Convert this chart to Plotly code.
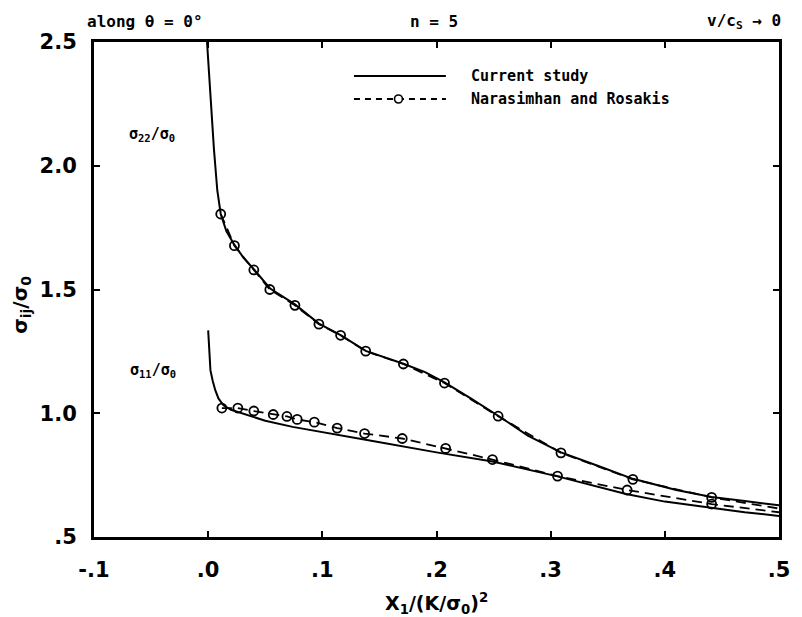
import plotly.graph_objects as go

# ---------------- data ----------------
x_tick_vals = [-0.1, 0.0, 0.1, 0.2, 0.3, 0.4, 0.5]
x_tick_text = ["-.1", ".0", ".1", ".2", ".3", ".4", ".5"]
y_tick_vals = [0.5, 1.0, 1.5, 2.0, 2.5]
y_tick_text = [".5", "1.0", "1.5", "2.0", "2.5"]

# Current study (solid)
s22_cur_x = [-0.001, 0.002, 0.005, 0.008, 0.011, 0.016, 0.023, 0.031, 0.040, 0.054,
             0.076, 0.097, 0.116, 0.138, 0.171, 0.190, 0.207, 0.230, 0.254, 0.280,
             0.309, 0.340, 0.372, 0.410, 0.441, 0.470, 0.500]
s22_cur_y = [2.50, 2.27, 2.07, 1.90, 1.805, 1.735, 1.680, 1.628, 1.582, 1.505,
             1.440, 1.362, 1.316, 1.252, 1.200, 1.166, 1.125, 1.060, 0.990, 0.910,
             0.842, 0.790, 0.735, 0.690, 0.662, 0.645, 0.628]

s11_cur_x = [0.000, 0.001, 0.002, 0.004, 0.0063, 0.009, 0.0134, 0.020, 0.0307, 0.050,
             0.074, 0.117, 0.149, 0.200, 0.249, 0.306, 0.366, 0.400, 0.441, 0.470, 0.500]
s11_cur_y = [1.335, 1.250, 1.173, 1.130, 1.092, 1.060, 1.032, 1.014, 0.999, 0.970,
             0.945, 0.911, 0.884, 0.842, 0.805, 0.745, 0.674, 0.643, 0.617, 0.600, 0.585]

# Narasimhan and Rosakis (dashed with open circles)
s22_nr_x = [0.011, 0.023, 0.040, 0.054, 0.076, 0.097, 0.116, 0.138, 0.171, 0.207,
            0.254, 0.309, 0.372, 0.441]
s22_nr_y = [1.805, 1.677, 1.579, 1.500, 1.436, 1.360, 1.315, 1.251, 1.199, 1.122,
            0.988, 0.840, 0.733, 0.660]
s22_nr_end_x = [0.500]
s22_nr_end_y = [0.615]

s11_nr_x = [0.012, 0.026, 0.040, 0.057, 0.069, 0.078, 0.093, 0.113, 0.137, 0.170,
            0.208, 0.249, 0.306, 0.367, 0.441]
s11_nr_y = [1.021, 1.021, 1.009, 0.995, 0.987, 0.975, 0.964, 0.940, 0.918, 0.898,
            0.858, 0.813, 0.746, 0.690, 0.633]
s11_nr_end_x = [0.500]
s11_nr_end_y = [0.600]

# ---------------- layout geometry (pixels) ----------------
W, H = 802, 617
L, R, T, B = 94, 787, 42, 537


def px(p):
    return (p - L) / (R - L)


def py(p):
    return (B - p) / (B - T)


DASH = "10px,6px"
LW = 2
FONT_TICK = dict(family="DejaVu Sans", size=21, color="black", weight="bold")
FONT_TXT = dict(family="DejaVu Sans Mono", size=15, color="black", weight="bold")
FONT_TOP = dict(family="DejaVu Sans Mono", size=16, color="black", weight="bold")
FONT_LBL = dict(family="DejaVu Sans Mono", size=15, color="black", weight="bold")

fig = go.Figure()

# current study
fig.add_trace(go.Scatter(x=s22_cur_x, y=s22_cur_y, mode="lines",
                         line=dict(color="black", width=LW), showlegend=False,
                         hoverinfo="skip"))
fig.add_trace(go.Scatter(x=s11_cur_x, y=s11_cur_y, mode="lines",
                         line=dict(color="black", width=LW), showlegend=False,
                         hoverinfo="skip"))

# Narasimhan and Rosakis dashed lines
fig.add_trace(go.Scatter(x=s22_nr_x + s22_nr_end_x, y=s22_nr_y + s22_nr_end_y, mode="lines",
                         line=dict(color="black", width=1.8, dash=DASH), showlegend=False,
                         hoverinfo="skip"))
fig.add_trace(go.Scatter(x=s11_nr_x + s11_nr_end_x, y=s11_nr_y + s11_nr_end_y, mode="lines",
                         line=dict(color="black", width=1.8, dash=DASH), showlegend=False,
                         hoverinfo="skip"))
# markers
for xs, ys in [(s22_nr_x, s22_nr_y), (s11_nr_x, s11_nr_y)]:
    fig.add_trace(go.Scatter(x=xs, y=ys, mode="markers",
                             marker=dict(symbol="circle-open", size=9, color="black",
                                         line=dict(width=1.8, color="black")),
                             showlegend=False, hoverinfo="skip"))


def note(xp, yp, text, font, xanchor="center", angle=0):
    return dict(x=px(xp), y=py(yp), xref="paper", yref="paper", text=text,
                showarrow=False, font=font, xanchor=xanchor, yanchor="middle",
                textangle=angle)


annotations = [
    # curve labels
    note(153, 134, "σ<sub>22</sub>/σ<sub>0</sub>", FONT_LBL),
    note(154, 370, "σ<sub>11</sub>/σ<sub>0</sub>", FONT_LBL),
    # top texts
    note(85, 22, "along θ = 0°", FONT_TOP, xanchor="left"),
    note(438, 22, "n = 5", FONT_TOP),
    note(791, 22, "v/c<sub>S</sub> → 0", FONT_TOP, xanchor="right"),
    # axis titles
    note(441, 603, "X<sub>1</sub>/(K/σ<sub>0</sub>)<sup>2</sup>",
         dict(family="DejaVu Sans", size=19, color="black", weight="bold")),
    note(20, 305, "σ<sub>ij</sub>/σ<sub>0</sub>",
         dict(family="DejaVu Sans", size=20, color="black", weight="bold"), angle=-90),
    # legend texts
    note(473, 76, "Current study", FONT_TXT, xanchor="left"),
    note(473, 99, "Narasimhan and Rosakis", FONT_TXT, xanchor="left"),
]

shapes = [
    dict(type="line", xref="paper", yref="paper", x0=px(357), x1=px(450), y0=py(76), y1=py(76),
         line=dict(color="black", width=LW)),
    dict(type="line", xref="paper", yref="paper", x0=px(357), x1=px(450), y0=py(99), y1=py(99),
         line=dict(color="black", width=1.8, dash="6px,5px")),
    dict(type="circle", xref="paper", yref="paper", x0=px(398), x1=px(406), y0=py(95), y1=py(103),
         fillcolor="white", line=dict(color="black", width=1.6)),
]

axis_common = dict(showline=True, linewidth=3, linecolor="black", mirror="ticks",
                   ticks="inside", ticklen=6, tickwidth=2, tickcolor="black",
                   showgrid=False, zeroline=False, tickfont=FONT_TICK)

fig.update_layout(
    width=W, height=H,
    margin=dict(l=L, r=W - R, t=T, b=H - B),
    paper_bgcolor="white", plot_bgcolor="white",
    xaxis=dict(range=[-0.1, 0.5], tickvals=x_tick_vals, ticktext=x_tick_text,
               ticklabelstandoff=12, **axis_common),
    yaxis=dict(range=[0.5, 2.5], tickvals=y_tick_vals, ticktext=y_tick_text,
               ticklabelstandoff=10, **axis_common),
    annotations=annotations, shapes=shapes, showlegend=False,
)

fig.write_html("out.html")
